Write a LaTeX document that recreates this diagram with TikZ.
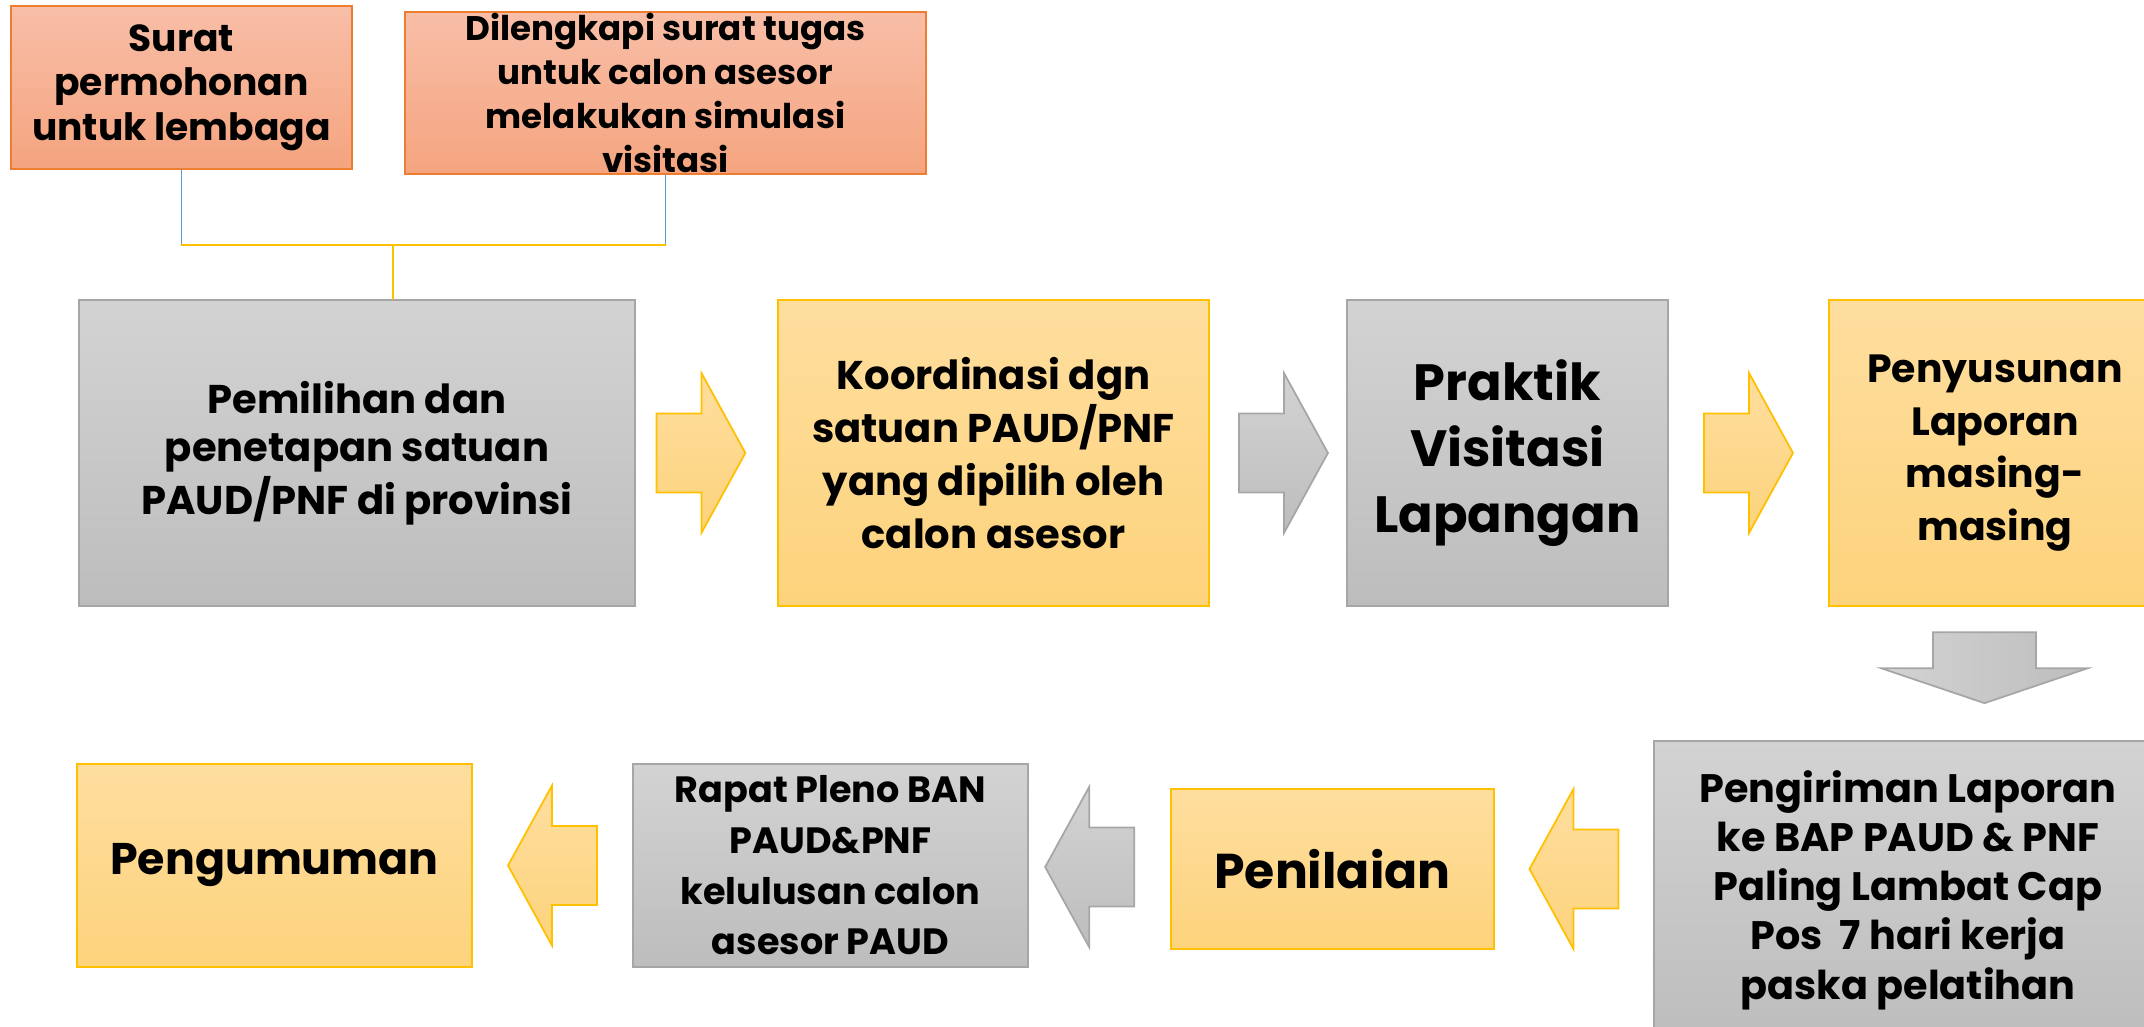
\documentclass[tikz,border=0pt]{standalone}
\usepackage{fontspec}
\setmainfont{Poppins}
\usetikzlibrary{calc,positioning}
\newcommand\boxfont[2]{\fontsize{#1}{#2}\selectfont\bfseries}
% Colors
\definecolor{graytop}{HTML}{D3D3D3}
\definecolor{graybot}{HTML}{BDBDBD}
\definecolor{grayline}{HTML}{A6A6A6}
\definecolor{yellowtop}{HTML}{FEDE9F}
\definecolor{yellowbot}{HTML}{FDD37C}
\definecolor{yellowline}{HTML}{FFC000}
\definecolor{salmontop}{HTML}{F8BEA7}
\definecolor{salmonbot}{HTML}{F5A47F}
\definecolor{salmonline}{HTML}{ED7D31}
\definecolor{linkblue}{HTML}{5B9BD5}
\tikzset{
  rblock/.pic={\path[#1] (-44.5,-39.5) -- (0.5,-39.5) -- (0.5,-80) -- (44.5,0)
    -- (0.5,80) -- (0.5,39.5) -- (-44.5,39.5) -- cycle;},
  dblock/.pic={\path[#1] (-51.5,0) -- (51.5,0) -- (51.5,36) -- (103.5,36)
    -- (0,71) -- (-103.5,36) -- (-51.5,36) -- cycle;}
}
\begin{document}
\begin{tikzpicture}
[x=0.01cm,y=-0.01cm,line cap=round,
% Styles
box/.style={draw,line width=0.6pt,align=center,inner sep=0pt},
graybox/.style={box,top color=graytop,bottom color=graybot,draw=grayline},
yellowbox/.style={box,top color=yellowtop,bottom color=yellowbot,draw=yellowline},
salmonbox/.style={box,top color=salmontop,bottom color=salmonbot,draw=salmonline},
grayarrow/.style={top color=graytop,bottom color=graybot,draw=grayline,line width=0.5pt},
grayarrowh/.style={left color=graytop,right color=graybot,draw=grayline,line width=0.5pt},
yellowarrow/.style={top color=yellowtop,bottom color=yellowbot,draw=yellowline,line width=0.5pt},
bluelink/.style={draw=linkblue,line width=0.4pt},
yellowlink/.style={draw=yellowline,line width=0.6pt}]
\useasboundingbox (0,0) rectangle (2144,1027);
% The boxes on top
\node[salmonbox,minimum width=3.41cm,minimum height=1.63cm,font=\boxfont{10.7}{12.7}]
  (surat) at (181.5,87.5) {Surat\\permohonan\\untuk lembaga};
\node[salmonbox,minimum width=5.21cm,minimum height=1.62cm,font=\boxfont{9.7}{12.6}]
  (dilengkapi) at (665.5,93) {Dilengkapi surat tugas\\untuk calon asesor\\melakukan simulasi\\visitasi};
% First row
\node[graybox,minimum width=5.56cm,minimum height=3.06cm,font=\boxfont{11.4}{13.8}]
  (pemilihan) at (357,453) {Pemilihan dan\\penetapan satuan\\PAUD/PNF di provinsi};
\node[yellowbox,minimum width=4.31cm,minimum height=3.06cm,font=\boxfont{11.4}{15}]
  (koordinasi) at (993.5,453) {Koordinasi dgn\\satuan PAUD/PNF\\yang dipilih oleh\\calon asesor};
\node[graybox,minimum width=3.21cm,minimum height=3.06cm,font=\boxfont{14.5}{18.7}]
  (praktik) at (1507.5,453) {Praktik\\Visitasi\\Lapangan};
\node[yellowbox,minimum width=3.32cm,minimum height=3.06cm,font=\boxfont{11.2}{15}]
  (penyusunan) at (1995,453) {Penyusunan\\Laporan\\masing-\\masing};
% Second row
\node[graybox,minimum width=5.08cm,minimum height=2.98cm,font=\boxfont{11.3}{14}]
  (pengiriman) at (1908,890) {Pengiriman Laporan\\ke BAP PAUD \& PNF\\Paling Lambat Cap\\Pos\ \ 7 hari kerja\\paska pelatihan};
\node[yellowbox,minimum width=3.23cm,minimum height=1.6cm,font=\boxfont{13.9}{18}]
  (penilaian) at (1332.5,869) {Penilaian};
\node[graybox,minimum width=3.95cm,minimum height=2.03cm,font=\boxfont{10.4}{14.4}]
  (rapat) at (830.5,865.5) {Rapat Pleno BAN\\PAUD\&PNF\\kelulusan calon\\asesor PAUD};
\node[yellowbox,minimum width=3.95cm,minimum height=2.03cm,font=\boxfont{12.6}{16}]
  (pengumuman) at (274.5,865.5) {Pengumuman};
% Links from the top boxes
\coordinate (joint) at (393,245);
\draw[bluelink] (surat.south) -- (surat.south |- joint);
\draw[bluelink] (dilengkapi.south) -- (dilengkapi.south |- joint);
\draw[yellowlink] (surat.south |- joint) -- (dilengkapi.south |- joint);
\draw[yellowlink] (joint) -- (joint |- pemilihan.north);
% Block arrows
\pic at ($(pemilihan.east)!0.46!(koordinasi.west)$) {rblock=yellowarrow};
\pic at ($(koordinasi.east)!0.54!(praktik.west)$) {rblock=grayarrow};
\pic at ($(praktik.east)!0.5!(penyusunan.west)$) {rblock=yellowarrow};
\pic at ([xshift=-0.105cm,yshift=-0.25cm]penyusunan.south) {dblock=grayarrowh};
\pic[xscale=-1] at ($(pengiriman.west |- penilaian.east)!0.5!(penilaian.east)$) {rblock=yellowarrow};
\pic[xscale=-1] at ($(penilaian.west)!0.57!(rapat.east)$) {rblock=grayarrow};
\pic[xscale=-1] at ($(rapat.west)!0.5!(pengumuman.east)$) {rblock=yellowarrow};
\end{tikzpicture}
\end{document}
